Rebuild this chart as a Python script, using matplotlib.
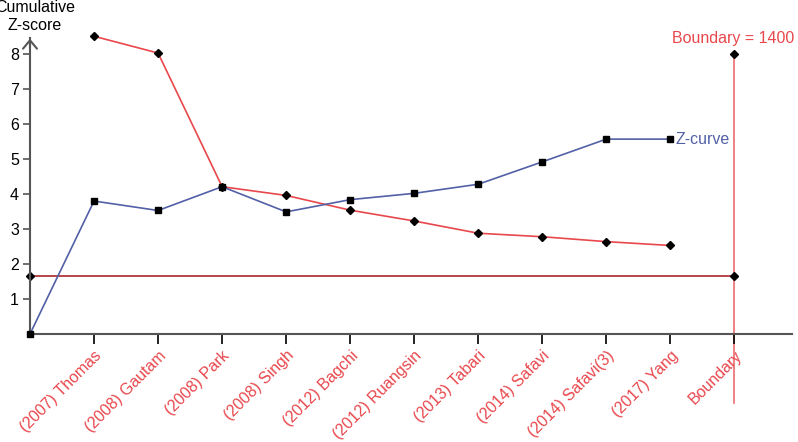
import matplotlib.pyplot as plt
import numpy as np

plt.rcParams["font.family"] = ["Liberation Sans", "DejaVu Sans"]

# data
studies = ["(2007) Thomas", "(2008) Gautam", "(2008) Park", "(2008) Singh",
           "(2012) Bagchi", "(2012) Ruangsin", "(2013) Tabari", "(2014) Safavi",
           "(2014) Safavi(3)", "(2017) Yang", "Boundary"]
z_curve = [0, 3.80, 3.53, 4.21, 3.49, 3.84, 4.02, 4.28, 4.92, 5.57, 5.57]
monitor_bound = [8.51, 8.03, 4.21, 3.96, 3.54, 3.23, 2.88, 2.78, 2.64, 2.53]
sig_level = 1.66
boundary_top = 8.0
boundary_n = 1400

red = "#e8474c"
blue = "#5260a6"
darkred = "#a8262c"
axis_col = "#555555"

fig = plt.figure(figsize=(7.98, 4.42), dpi=100)
ax = fig.add_axes([30 / 798, 108 / 442, 762 / 798, 296 / 442])

x_z = np.arange(len(z_curve))
x_b = np.arange(1, len(monitor_bound) + 1)
x_end = len(studies)

# conventional significance line
ax.plot([0, x_end], [sig_level, sig_level], color=darkred, lw=1.2,
        marker="D", ms=4, mfc="black", mec="black", zorder=2, clip_on=False)
# sequential monitoring boundary
ax.plot(x_b, monitor_bound, color=red, lw=1.2, marker="D", ms=4,
        mfc="black", mec="black", zorder=3, clip_on=False)
# z-curve
ax.plot(x_z, z_curve, color=blue, lw=1.2, marker="s", ms=5,
        mfc="black", mec="black", zorder=4, clip_on=False)
# required information size
ax.plot([x_end, x_end], [boundary_top, -1.97], color=red, lw=1.2,
        alpha=0.8, clip_on=False, zorder=1)
ax.plot([x_end], [boundary_top], marker="D", ms=4, color="black", zorder=5)

ax.text(x_z[-1] + 0.08, z_curve[-1], "Z-curve", color=blue, fontsize=11.5,
        ha="left", va="center")
ax.text(x_end - 0.02, boundary_top + 0.22, f"Boundary = {boundary_n}",
        color=red, fontsize=11.5, ha="center", va="bottom")

ax.set_xlim(0, 11.9)
ax.set_ylim(0, 8.46)
ax.set_yticks(range(1, 9))
ax.set_xticks(range(1, x_end + 1))
ax.set_xticklabels(studies, rotation=45, ha="right", va="top",
                   rotation_mode="anchor", color=red, fontsize=11.5)
ax.tick_params(axis="y", labelsize=11.5, length=5, width=1.2, color=axis_col, pad=3)
ax.tick_params(axis="x", length=7, width=1.2, color="black", pad=3)

for s in ["top", "right"]:
    ax.spines[s].set_visible(False)
for s in ["left", "bottom"]:
    ax.spines[s].set_color(axis_col)
    ax.spines[s].set_linewidth(1.5)

# open arrow head on the y axis
ax.annotate("", xy=(0, 8.52), xytext=(0, 8.1), xycoords="data",
            arrowprops=dict(arrowstyle="->,head_width=0.5,head_length=0.6",
                            color=axis_col, lw=1.5),
            annotation_clip=False)

fig.text(35 / 798, 1 - 8 / 442, "Cumulative", ha="center", va="center", fontsize=11.5)
fig.text(35 / 798, 1 - 25 / 442, "Z-score", ha="center", va="center", fontsize=11.5)

fig.savefig("out.png", dpi=100)
